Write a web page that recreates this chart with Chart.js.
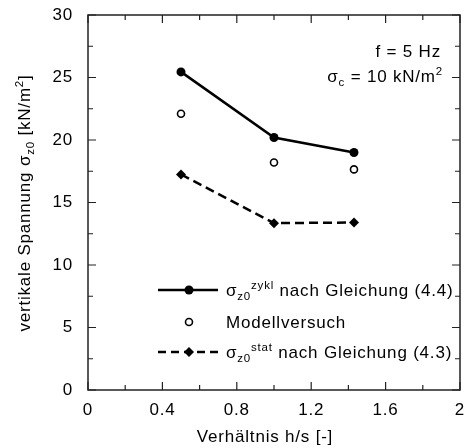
<!DOCTYPE html>
<html>
<head>
<meta charset="utf-8">
<script src="https://cdn.jsdelivr.net/npm/chart.js@4/dist/chart.umd.min.js"></script>
<style>
html, body { margin: 0; padding: 0; background: #fff; }
</style>
</head>
<body>
<canvas id="stressChart" width="473" height="448"></canvas>
<script>
// values
const hsRatio = [0.5, 1.0, 1.43];
const sigmaZykl = [25.45, 20.2, 19.0];
const modellVersuch = [22.1, 18.2, 17.65];
const sigmaStat = [17.25, 13.35, 13.4];
const xTicks = [0, 0.4, 0.8, 1.2, 1.6, 2];
const yTicks = [0, 5, 10, 15, 20, 25, 30];

const FONT = "'Liberation Sans', Arial, Helvetica, sans-serif";

// draws text with sub (1) and superscript (2) parts
function richText(ctx, parts, x, y, align) {
    const size = k => (k ? 11.5 : 17);
    const dy = k => (k === 1 ? 4 : k === 2 ? -7 : 0);
    let w = 0;
    parts.forEach(([t, k]) => {
        ctx.font = size(k) + 'px ' + FONT;
        w += ctx.measureText(t).width;
    });
    let cx = align === 'right' ? x - w : align === 'center' ? x - w / 2 : x;
    ctx.textAlign = 'left';
    ctx.textBaseline = 'alphabetic';
    parts.forEach(([t, k]) => {
        ctx.font = size(k) + 'px ' + FONT;
        ctx.fillText(t, cx, y + dy(k));
        cx += ctx.measureText(t).width;
    });
}

const noPad = s => { s.paddingTop = 0; s.paddingBottom = 0; s.paddingLeft = 0; s.paddingRight = 0; };

const frameAndText = {
    id: 'frameAndText',
    beforeDraw(chart) {
        chart.ctx.letterSpacing = '0.8px';
    },
    afterDraw(chart) {
        const { ctx, chartArea: a, scales: { x, y } } = chart;
        ctx.save();
        ctx.letterSpacing = '0.8px';
        ctx.fillStyle = '#000';
        ctx.strokeStyle = '#222';

        // frame with inward ticks on all sides
        ctx.lineWidth = 1.5;
        ctx.strokeRect(a.left, a.top, a.right - a.left, a.bottom - a.top);
        ctx.lineWidth = 1.2;
        ctx.beginPath();
        for (let i = 0; i <= 10; i++) {
            const px = x.getPixelForValue(i * 0.2);
            const len = i % 2 === 0 ? 8 : 5;
            ctx.moveTo(px, a.bottom); ctx.lineTo(px, a.bottom - len);
            ctx.moveTo(px, a.top); ctx.lineTo(px, a.top + len);
        }
        for (let i = 0; i <= 12; i++) {
            const py = y.getPixelForValue(i * 2.5);
            const len = i % 2 === 0 ? 8 : 5;
            ctx.moveTo(a.left, py); ctx.lineTo(a.left + len, py);
            ctx.moveTo(a.right, py); ctx.lineTo(a.right - len, py);
        }
        ctx.stroke();

        // axis titles
        richText(ctx, [['Verhältnis h/s [-]', 0]], 265, 442, 'center');
        ctx.save();
        ctx.translate(30, 203);
        ctx.rotate(-Math.PI / 2);
        richText(ctx, [['vertikale Spannung σ', 0], ['z0', 1], [' [kN/m', 0], ['2', 2], [']', 0]], 0, 0, 'center');
        ctx.restore();

        // annotation
        richText(ctx, [['f = 5 Hz', 0]], 441, 57, 'right');
        richText(ctx, [['σ', 0], ['c', 1], [' = 10 kN/m', 0], ['2', 2]], 443, 82, 'right');

        // legend
        const lx0 = 158, lx1 = 218, mx = 189, tx = 226;
        const rows = [290, 322, 352];
        ctx.strokeStyle = '#000';
        ctx.lineWidth = 2.5;
        ctx.beginPath(); ctx.moveTo(lx0, rows[0]); ctx.lineTo(lx1, rows[0]); ctx.stroke();
        ctx.beginPath(); ctx.arc(mx, rows[0], 4.5, 0, Math.PI * 2); ctx.fill();

        ctx.lineWidth = 1.6;
        ctx.fillStyle = '#fff';
        ctx.beginPath(); ctx.arc(mx, rows[1], 3.5, 0, Math.PI * 2); ctx.fill(); ctx.stroke();
        ctx.fillStyle = '#000';

        ctx.lineWidth = 2.5;
        ctx.setLineDash([8, 5]);
        ctx.beginPath(); ctx.moveTo(lx0, rows[2]); ctx.lineTo(lx1, rows[2]); ctx.stroke();
        ctx.setLineDash([]);
        ctx.beginPath();
        ctx.moveTo(mx, rows[2] - 5); ctx.lineTo(mx + 5, rows[2]);
        ctx.lineTo(mx, rows[2] + 5); ctx.lineTo(mx - 5, rows[2]);
        ctx.closePath(); ctx.fill();

        richText(ctx, [['σ', 0], ['z0', 1], ['zykl', 2], [' nach Gleichung (4.4)', 0]], tx, rows[0] + 6, 'left');
        richText(ctx, [['Modellversuch', 0]], tx, rows[1] + 6, 'left');
        richText(ctx, [['σ', 0], ['z0', 1], ['stat', 2], [' nach Gleichung (4.3)', 0]], tx, rows[2] + 6, 'left');
        ctx.restore();
    }
};

const toPoints = vals => hsRatio.map((h, i) => ({ x: h, y: vals[i] }));

new Chart(document.getElementById('stressChart').getContext('2d'), {
    type: 'scatter',
    data: {
        datasets: [
            {
                label: 'sigma_z0 zykl nach Gleichung (4.4)',
                data: toPoints(sigmaZykl),
                showLine: true,
                borderColor: '#000',
                borderWidth: 2.5,
                pointStyle: 'circle',
                pointRadius: 4.5,
                pointBackgroundColor: '#000',
                pointBorderColor: '#000',
                pointBorderWidth: 0
            },
            {
                label: 'Modellversuch',
                data: toPoints(modellVersuch),
                showLine: false,
                pointStyle: 'circle',
                pointRadius: 3.5,
                pointBackgroundColor: '#fff',
                pointBorderColor: '#000',
                pointBorderWidth: 1.6
            },
            {
                label: 'sigma_z0 stat nach Gleichung (4.3)',
                data: toPoints(sigmaStat),
                showLine: true,
                borderColor: '#000',
                borderWidth: 2.5,
                borderDash: [9, 5],
                pointStyle: 'rectRot',
                pointRadius: 5,
                pointBackgroundColor: '#000',
                pointBorderColor: '#000',
                pointBorderWidth: 0
            }
        ]
    },
    options: {
        responsive: false,
        animation: false,
        devicePixelRatio: 1,
        layout: { padding: { top: 15, right: 13, left: 0, bottom: 0 } },
        plugins: { legend: { display: false }, tooltip: { enabled: false } },
        scales: {
            x: {
                type: 'linear',
                min: 0,
                max: 2,
                afterBuildTicks: s => { s.ticks = xTicks.map(v => ({ value: v })); },
                afterFit: s => { s.height = 58; noPad(s); },
                grid: { display: false, drawTicks: false },
                border: { display: false },
                ticks: {
                    padding: 10, color: '#000', font: { family: FONT, size: 17 }, maxRotation: 0,
                    callback: v => String(v)
                }
            },
            y: {
                type: 'linear',
                min: 0,
                max: 30,
                afterBuildTicks: s => { s.ticks = yTicks.map(v => ({ value: v })); },
                afterFit: s => { s.width = 88; noPad(s); },
                grid: { display: false, drawTicks: false },
                border: { display: false },
                ticks: { padding: 15, color: '#000', font: { family: FONT, size: 17 } }
            }
        }
    },
    plugins: [frameAndText]
});
</script>
</body>
</html>
